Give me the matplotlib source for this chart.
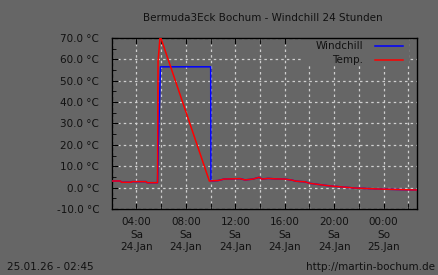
import matplotlib
matplotlib.use("Agg")
import matplotlib.pyplot as plt
from matplotlib.patches import Rectangle

# Stunden ab 24.01. 00:00
zeit_temp = [2.01, 2.68, 2.82, 3.57, 3.65, 4.78, 4.86, 5.71, 5.75, 5.92, 9.90,
             10.60, 11.09, 12.38, 12.79, 13.43, 13.92, 14.16, 14.65, 15.21, 16.02,
             16.59, 16.91, 17.64, 18.04, 18.69, 19.50, 20.47, 21.68, 23.87, 25.89, 26.69]
temp = [3.1, 3.1, 2.5, 2.5, 2.8, 2.8, 2.3, 2.3, 59.0, 71.0, 3.1,
        3.3, 4.0, 4.2, 3.6, 4.0, 4.8, 4.0, 4.3, 4.1, 4.0,
        3.5, 3.0, 2.7, 2.0, 1.5, 0.9, 0.4, -0.2, -0.7, -1.0, -1.1]

zeit_wc = [2.01, 2.68, 2.82, 3.57, 3.65, 4.78, 4.86, 5.71, 5.78, 5.80, 5.92, 5.95, 10.01, 10.03,
           10.60, 11.09, 12.38, 12.79, 13.43, 13.92, 14.16, 14.65, 15.21, 16.02,
           16.59, 16.91, 17.64, 18.04, 18.69, 19.50, 20.47, 21.68, 23.87, 25.89, 26.69]
windchill = [3.1, 3.1, 2.5, 2.5, 2.8, 2.8, 2.3, 2.3, 22.0, 26.0, 51.0, 56.5, 56.5, 3.1,
             3.3, 4.0, 4.2, 3.6, 4.0, 4.8, 4.0, 4.3, 4.1, 4.0,
             3.5, 3.0, 2.7, 2.0, 1.5, 0.9, 0.4, -0.2, -0.7, -1.0, -1.1]

x_ticks = [4, 8, 12, 16, 20, 24]
x_labels = ["04:00\nSa\n24.Jan", "08:00\nSa\n24.Jan", "12:00\nSa\n24.Jan",
            "16:00\nSa\n24.Jan", "20:00\nSa\n24.Jan", "00:00\nSo\n25.Jan"]
y_ticks = [-10, 0, 10, 20, 30, 40, 50, 60, 70]

bg = "#666666"
txt = "#111111"
fs = 7.5

fig = plt.figure(figsize=(4.38, 2.75), dpi=100, facecolor=bg)
ax = fig.add_axes([0.255, 0.24, 0.697, 0.622], facecolor=bg)

ax.plot(zeit_wc, windchill, color="#0000ff", lw=1.1, zorder=3)
ax.plot(zeit_temp, temp, color="#ff0000", lw=1.1, zorder=4)

ax.set_xlim(2.0, 26.7)
ax.set_ylim(-10, 70)

ax.set_xticks(x_ticks)
ax.set_xticklabels(x_labels, fontsize=fs, color=txt, linespacing=1.3)
ax.set_xticks(range(2, 27, 2), minor=True)
ax.set_yticks(y_ticks)
ax.set_yticklabels(["%.1f °C" % v for v in y_ticks], fontsize=fs, color=txt)
ax.set_yticks(range(-10, 71, 5), minor=True)

ax.tick_params(axis="x", which="both", direction="in", length=4, top=True,
               color="black", pad=6)
ax.tick_params(axis="y", which="both", direction="in", length=3, color="black", pad=9)
ax.tick_params(axis="y", which="major", length=4)

gitter = dict(color="#d0d0d0", lw=0.9, ls=(0, (2, 2.5)))
ax.grid(True, which="both", axis="x", **gitter)
ax.grid(True, which="major", axis="y", **gitter)
ax.set_axisbelow(True)
for s in ax.spines.values():
    s.set_color("black")
    s.set_linewidth(1.0)

# Legende
ax.add_patch(Rectangle((0.625, 0.835), 0.35, 0.165, transform=ax.transAxes,
                       facecolor=bg, edgecolor="none", zorder=2))
ax.text(0.825, 0.955, "Windchill", transform=ax.transAxes, ha="right", va="center",
        fontsize=fs, color=txt, zorder=5)
ax.text(0.825, 0.87, "Temp.", transform=ax.transAxes, ha="right", va="center",
        fontsize=fs, color=txt, zorder=5)
ax.plot([0.862, 0.955], [0.955, 0.955], transform=ax.transAxes, color="#0000ff", lw=1.1, zorder=5)
ax.plot([0.862, 0.955], [0.87, 0.87], transform=ax.transAxes, color="#ff0000", lw=1.1, zorder=5)

fig.text(0.60, 0.935, "Bermuda3Eck Bochum - Windchill 24 Stunden", ha="center", va="center",
         fontsize=fs, color=txt)
fig.text(0.016, 0.03, "25.01.26 - 02:45", ha="left", va="center", fontsize=fs, color=txt)
fig.text(0.993, 0.03, "http://martin-bochum.de", ha="right", va="center", fontsize=fs, color=txt)

fig.savefig("out.png", dpi=100, facecolor=bg)
